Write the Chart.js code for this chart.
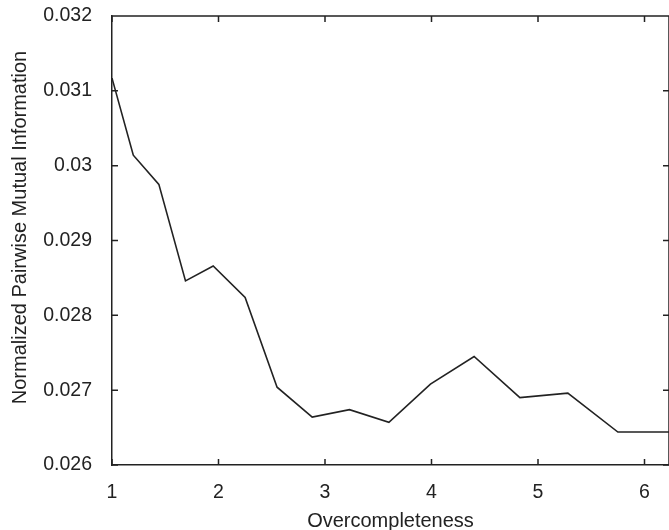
<!DOCTYPE html>
<html>
<head>
<meta charset="utf-8">
<script src="https://cdn.jsdelivr.net/npm/chart.js@4/dist/chart.umd.min.js"></script>
<style>
  html, body { margin: 0; padding: 0; background: #fff; }
  #wrap { width: 669px; height: 530px; }
</style>
</head>
<body>
<div id="wrap"><canvas id="mi"></canvas></div>
<script>
// overcompleteness ratio (x) and normalized pairwise mutual information (y)
const overcompleteness = [1, 1.2, 1.44, 1.69, 1.95, 2.25, 2.55, 2.88, 3.23, 3.6, 3.99, 4.4, 4.83, 5.28, 5.75, 6.24];
const mutualInfo = [0.03117, 0.03014, 0.02975, 0.02846, 0.02866, 0.02824, 0.02704, 0.02664,
                    0.02674, 0.02657, 0.02708, 0.02745, 0.02690, 0.02696, 0.02644, 0.02644];
const xTicks = [1, 2, 3, 4, 5, 6];
const yTicks = [0.026, 0.027, 0.028, 0.029, 0.03, 0.031, 0.032];
const yTitle = 'Normalized Pairwise Mutual Information';

const ink = '#222';
const fontFam = 'Liberation Sans, Arial, Helvetica, sans-serif';

// matlab-like box with inward tick marks, plus the y label (sits a bit above centre)
const boxTicks = {
    id: 'boxTicks',
    afterDatasetsDraw(chart) {
        const { ctx, chartArea: a, scales: { x, y } } = chart;
        const len = 6;
        ctx.save();
        ctx.strokeStyle = ink;
        ctx.lineWidth = 1.5;
        ctx.beginPath();
        ctx.moveTo(a.left, a.top);
        ctx.lineTo(a.right, a.top);
        ctx.lineTo(a.right, a.bottom);
        xTicks.forEach(v => {
            const px = x.getPixelForValue(v);
            ctx.moveTo(px, a.bottom); ctx.lineTo(px, a.bottom - len);
            ctx.moveTo(px, a.top); ctx.lineTo(px, a.top + len);
        });
        yTicks.forEach(v => {
            const py = y.getPixelForValue(v);
            ctx.moveTo(a.left, py); ctx.lineTo(a.left + len, py);
            ctx.moveTo(a.right, py); ctx.lineTo(a.right - len, py);
        });
        ctx.stroke();

        ctx.translate(20.5, (a.top + a.bottom) / 2 - 13);
        ctx.rotate(-Math.PI / 2);
        ctx.fillStyle = '#222';
        ctx.font = '20px ' + fontFam;
        ctx.textAlign = 'center';
        ctx.textBaseline = 'middle';
        ctx.fillText(yTitle, 0, 0);
        ctx.restore();
    }
};

new Chart(document.getElementById('mi'), {
    type: 'line',
    data: {
        datasets: [{
            data: overcompleteness.map((v, i) => ({ x: v, y: mutualInfo[i] })),
            borderColor: ink,
            borderWidth: 1.6,
            pointRadius: 0,
            tension: 0,
            fill: false,
        }],
    },
    options: {
        responsive: true,
        maintainAspectRatio: false,
        animation: false,
        events: [],
        layout: { padding: { top: 16, right: 0, bottom: 0, left: 0 } },
        plugins: { legend: { display: false }, tooltip: { enabled: false } },
        scales: {
            x: {
                type: 'linear',
                min: 1,
                max: 6.23,
                afterBuildTicks: s => { s.ticks = xTicks.map(v => ({ value: v })); },
                afterFit: s => { s.height = 65; s.paddingLeft = 0; s.paddingRight = 0; },
                grid: { drawOnChartArea: false, drawTicks: false },
                border: { color: ink, width: 1.5 },
                ticks: { color: '#222', padding: 16, font: { family: fontFam, size: 19.5 } },
                title: {
                    display: true,
                    text: 'Overcompleteness',
                    color: '#222',
                    font: { family: fontFam, size: 20 },
                    padding: { top: 0, bottom: -3.5 },
                },
            },
            y: {
                type: 'linear',
                min: 0.026,
                max: 0.032,
                afterBuildTicks: s => { s.ticks = yTicks.map(v => ({ value: v })); },
                afterFit: s => { s.width = 112; s.paddingTop = 0; s.paddingBottom = 0; },
                grid: { drawOnChartArea: false, drawTicks: false },
                border: { color: ink, width: 1.5 },
                ticks: {
                    color: '#222',
                    padding: 20,
                    font: { family: fontFam, size: 19.5 },
                    callback: v => String(+v.toFixed(3)),
                },
            },
        },
    },
    plugins: [boxTicks],
});
</script>
</body>
</html>
